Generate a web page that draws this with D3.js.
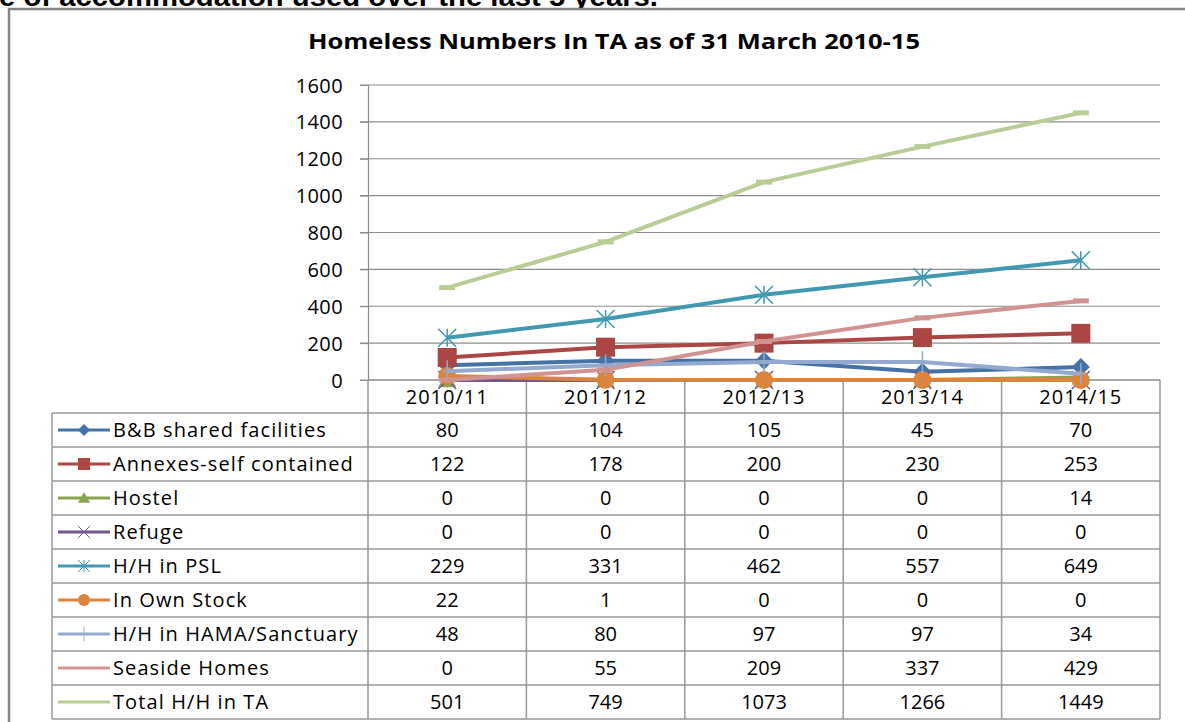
<!DOCTYPE html>
<html>
<head>
<meta charset="utf-8">
<script src="https://cdn.jsdelivr.net/npm/d3@7"></script>
<style>
  body { margin: 0; background: #fff; }
  svg { display: block; }
  .tick-label, .cell, .legend-text { font-family: "Open Sans", sans-serif; fill: #000; }
</style>
</head>
<body>
<div id="vis_container"></div>
<script>
// Data
var years = ["2010/11", "2011/12", "2012/13", "2013/14", "2014/15"];
var seriesNames = ["B&B shared facilities", "Annexes-self contained", "Hostel", "Refuge",
  "H/H in PSL", "In Own Stock", "H/H in HAMA/Sanctuary", "Seaside Homes", "Total H/H in TA"];
var bbShared   = [80, 104, 105, 45, 70];
var annexes    = [122, 178, 200, 230, 253];
var hostel     = [0, 0, 0, 0, 14];
var refuge     = [0, 0, 0, 0, 0];
var hhPSL      = [229, 331, 462, 557, 649];
var ownStock   = [22, 1, 0, 0, 0];
var hama       = [48, 80, 97, 97, 34];
var seaside    = [0, 55, 209, 337, 429];
var totalTA    = [501, 749, 1073, 1266, 1449];
var yTicks     = [0, 200, 400, 600, 800, 1000, 1200, 1400, 1600];

var colors  = ["#4572A7", "#AA4643", "#89A54E", "#71588F", "#4198AF", "#DB843D", "#93A9CF", "#D19392", "#B9CD96"];
var markers = ["diamond", "square", "triangle", "x", "star", "circle", "plus", "dash", "dash"];

var seriesValues = [bbShared, annexes, hostel, refuge, hhPSL, ownStock, hama, seaside, totalTA];
var series = seriesNames.map(function (n, i) {
  return { name: n, values: seriesValues[i], color: colors[i], marker: markers[i] };
});

var width = 1185, height = 722;
var plotLeft = 368, plotRight = 1160, plotTop = 85, plotBottom = 380;
var tableLeft = 52, headerH = 33, rowH = 34;

var svg = d3.select("#vis_container")
  .append("svg")
  .attr("width", width)
  .attr("height", height);

// heading of the page above the chart (cut off at the top)
svg.append("text")
  .attr("x", -1)
  .attr("y", 6)
  .attr("textLength", 659)
  .attr("lengthAdjust", "spacingAndGlyphs")
  .style("font-family", "Liberation Sans, Arial, sans-serif")
  .style("font-weight", "bold")
  .style("font-size", "27px")
  .text("e of accommodation used over the last 5 years.");

// chart frame
svg.append("rect")
  .attr("x", 9).attr("y", 9)
  .attr("width", 1200).attr("height", 740)
  .attr("fill", "#fff")
  .attr("stroke", "#868686")
  .attr("stroke-width", 2.5);

svg.append("text")
  .attr("x", 308)
  .attr("y", 49)
  .attr("textLength", 612)
  .attr("lengthAdjust", "spacingAndGlyphs")
  .style("font-family", "Open Sans, sans-serif")
  .style("font-weight", "bold")
  .style("font-size", "22px")
  .text("Homeless Numbers In TA as of 31 March 2010-15");

// scales
var x = d3.scaleBand()
  .domain(years)
  .range([plotLeft, plotRight]);

var y = d3.scaleLinear()
  .domain([0, 1600])
  .range([plotBottom, plotTop]);

// gridlines
svg.append("g")
  .selectAll("line")
  .data(yTicks)
  .join("line")
  .attr("x1", plotLeft - 8)
  .attr("x2", plotRight)
  .attr("y1", function (d) { return y(d); })
  .attr("y2", function (d) { return y(d); })
  .attr("stroke", "#8c8c8c")
  .attr("stroke-width", 1.2);

// y axis
var yAxis = svg.append("g")
  .attr("transform", "translate(" + plotLeft + ",0)")
  .call(d3.axisLeft(y).tickValues(yTicks).tickFormat(d3.format("d")).tickSize(8).tickPadding(17));
yAxis.select(".domain").attr("stroke", "#8c8c8c").attr("stroke-width", 1.2);
yAxis.selectAll(".tick line").attr("stroke", "#8c8c8c");
yAxis.selectAll(".tick text")
  .attr("class", "tick-label")
  .attr("dy", "0.35em")
  .style("font-family", "Open Sans, sans-serif")
  .style("font-size", "20px")
  .style("letter-spacing", "0.4px")
  .attr("fill", "#000");

// data table
var tableBottom = plotBottom + headerH + rowH * series.length;
var tableLines = svg.append("g").attr("stroke", "#999").attr("stroke-width", 1.5);

// column separators
var colEdges = years.map(function (d) { return x(d); }).concat([plotRight]);
tableLines.selectAll("line.col")
  .data(colEdges)
  .join("line")
  .attr("class", "col")
  .attr("x1", function (d) { return d; })
  .attr("x2", function (d) { return d; })
  .attr("y1", plotBottom)
  .attr("y2", tableBottom);

tableLines.append("line")
  .attr("x1", tableLeft).attr("x2", tableLeft)
  .attr("y1", plotBottom + headerH).attr("y2", tableBottom);

// row separators
var rowEdges = d3.range(series.length + 1).map(function (i) { return plotBottom + headerH + i * rowH; });
tableLines.selectAll("line.row")
  .data(rowEdges)
  .join("line")
  .attr("class", "row")
  .attr("x1", tableLeft)
  .attr("x2", plotRight)
  .attr("y1", function (d) { return d; })
  .attr("y2", function (d) { return d; });

// x axis line
svg.append("line")
  .attr("x1", plotLeft).attr("x2", plotRight)
  .attr("y1", plotBottom).attr("y2", plotBottom)
  .attr("stroke", "#8c8c8c").attr("stroke-width", 1.2);

// category labels
svg.append("g")
  .selectAll("text")
  .data(years)
  .join("text")
  .attr("class", "cell")
  .attr("x", function (d) { return x(d) + x.bandwidth() / 2; })
  .attr("y", plotBottom + headerH / 2 + 7.5)
  .attr("text-anchor", "middle")
  .style("font-size", "20px")
  .style("letter-spacing", "1px")
  .text(function (d) { return d; });

// marker shapes
function markerPath(type, s) {
  var h = s / 2;
  switch (type) {
    case "diamond": return "M0," + (-h) + "L" + h + ",0L0," + h + "L" + (-h) + ",0Z";
    case "square": return "M" + (-h) + "," + (-h) + "H" + h + "V" + h + "H" + (-h) + "Z";
    case "triangle": return "M0," + (-h) + "L" + h + "," + (h * 0.8) + "L" + (-h) + "," + (h * 0.8) + "Z";
    case "circle": return "M" + h + ",0A" + h + "," + h + " 0 1,1 " + (-h) + ",0A" + h + "," + h + " 0 1,1 " + h + ",0Z";
    case "x": return "M" + (-h) + "," + (-h) + "L" + h + "," + h + "M" + h + "," + (-h) + "L" + (-h) + "," + h;
    case "star": return "M" + (-h) + "," + (-h) + "L" + h + "," + h + "M" + h + "," + (-h) + "L" + (-h) + "," + h +
      "M0," + (-h) + "V" + h;
    case "plus": return "M0," + (-h * 1.2) + "V" + (h * 1.2) + "M" + (-h * 0.5) + ",0H" + (h * 0.5);
    case "dash": return "M" + (-h) + ",-2.5H" + h + "V2.5H" + (-h) + "Z";
  }
}
function isStroked(type) { return type === "x" || type === "star" || type === "plus"; }

var line = d3.line()
  .x(function (d, i) { return x(years[i]) + x.bandwidth() / 2; })
  .y(function (d) { return y(d); });

// series lines and markers
series.forEach(function (s) {
  var g = svg.append("g");
  g.append("path")
    .attr("d", line(s.values))
    .attr("fill", "none")
    .attr("stroke", s.color)
    .attr("stroke-width", 4)
    .attr("stroke-linejoin", "round");
  var size = s.marker === "square" ? 19 : (s.marker === "dash" ? 16 : 18);
  g.selectAll("path.mk")
    .data(s.values)
    .join("path")
    .attr("class", "mk")
    .attr("transform", function (d, i) {
      return "translate(" + (x(years[i]) + x.bandwidth() / 2) + "," + y(d) + ")";
    })
    .attr("d", markerPath(s.marker, size))
    .attr("fill", isStroked(s.marker) ? "none" : s.color)
    .attr("stroke", s.color)
    .attr("stroke-width", isStroked(s.marker) ? 1.5 : 0);
});

// legend + values in table rows
series.forEach(function (s, r) {
  var cy = plotBottom + headerH + r * rowH + rowH / 2;
  var row = svg.append("g");
  row.append("line")
    .attr("x1", 58).attr("x2", 110)
    .attr("y1", cy).attr("y2", cy)
    .attr("stroke", s.color)
    .attr("stroke-width", 3);
  row.append("path")
    .attr("transform", "translate(84," + cy + ")")
    .attr("d", s.marker === "dash" ? "" : markerPath(s.marker, 12))
    .attr("fill", isStroked(s.marker) ? "none" : s.color)
    .attr("stroke", s.color)
    .attr("stroke-width", isStroked(s.marker) ? 1 : 0);
  row.append("text")
    .attr("class", "legend-text")
    .attr("x", 113)
    .attr("y", cy + 7)
    .style("font-size", "20px")
    .style("letter-spacing", "1.1px")
    .text(s.name);
  row.selectAll("text.cell")
    .data(s.values)
    .join("text")
    .attr("class", "cell")
    .attr("x", function (d, i) { return x(years[i]) + x.bandwidth() / 2; })
    .attr("y", cy + 7)
    .attr("text-anchor", "middle")
    .style("font-size", "20px")
    .text(function (d) { return d; });
});
</script>
</body>
</html>
